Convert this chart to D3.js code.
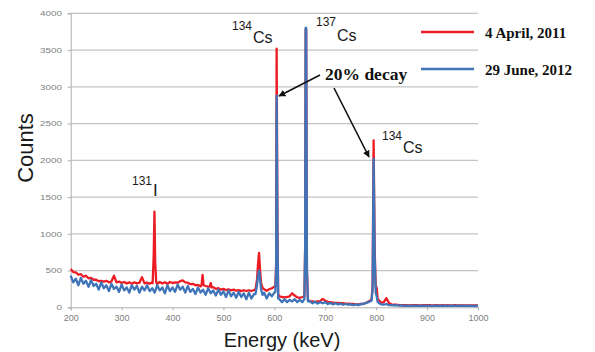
<!DOCTYPE html>
<html><head><meta charset="utf-8">
<script src="https://cdn.jsdelivr.net/npm/d3@7"></script>
<style>
html,body{margin:0;padding:0;background:#fff;}
svg{display:block;}
</style></head>
<body>
<svg id="chart" width="595" height="352"></svg>
<script>
// ---- data ----
const energyStart = 200, energyStep = 5;
const xTicks = [200, 300, 400, 500, 600, 700, 800, 900, 1000];
const yTicks = [0, 500, 1000, 1500, 2000, 2500, 3000, 3500, 4000];
const seriesNames = ["4 April, 2011", "29 June, 2012"];

// background continuum, counts every 5 keV from 200 to 1000
const redBase = [
 520,480,475,445,450,415,430,395,400,375,
 375,355,360,350,360,340,350,430,340,350,
 330,345,325,340,320,340,325,335,410,325,
 335,320,340,325,320,345,325,340,320,345,
 330,340,335,355,365,340,335,315,320,300,
 305,285,300,290,280,300,275,250,260,240,
 250,235,245,230,240,225,235,220,232,222,
 232,222,235,240,245,250,245,225,245,260,
 280,300,150,140,135,140,150,190,160,135,
 130,140,150,120,85,80,75,80,85,115,
 90,75,70,65,60,60,55,55,50,50,
 45,45,40,40,45,50,60,80,100,200,
 260,100,60,70,125,60,40,35,35,30,
 30,28,30,27,30,28,30,27,28,30,
 28,30,27,28,30,27,28,26,28,27,
 26,28,25,27,26,25,27,25,26,25,
 25];
const blueBase = [
 430,340,390,300,400,320,360,280,370,290,
 320,240,340,260,300,220,320,250,280,210,
 310,230,270,200,300,240,290,200,280,230,
 300,220,260,200,300,230,270,190,300,220,
 270,210,310,240,280,200,290,210,250,180,
 270,200,240,170,260,190,230,160,240,170,
 220,140,230,150,200,130,210,140,190,110,
 200,120,180,150,200,180,200,120,190,150,
 200,250,110,70,110,70,100,80,110,70,
 100,70,110,90,80,55,75,50,70,55,
 70,45,60,40,55,40,50,35,45,35,
 40,30,40,30,45,45,60,70,90,150,
 140,60,40,35,45,30,30,25,30,22,
 25,20,24,19,23,20,24,19,22,20,
 23,19,22,20,23,19,22,20,21,19,
 22,19,21,20,22,18,21,19,20,18,
 20];

// peaks: [energy keV, counts]
const redPeaks = [
 [[361,330],[363,700],[364.5,1300],[366,600],[368,340]],
 [[457,300],[459,440],[461,300]],
 [[473,280],[475,330],[477,270]],
 [[563,240],[566,380],[568,600],[570,740],[572,500],[574,330],[577,260]],
 [[602,290],[603.5,600],[604.5,3520],[606,1200],[607.5,180]],
 [[659,150],[660.5,800],[661.5,3780],[662.5,3780],[664,500],[666,100]],
 [[791,110],[793,300],[795,2270],[797,800],[799,300],[801,260],[803,110]]
];
const bluePeaks = [
 [[563,180],[566,300],[568,430],[570,500],[572,380],[574,240],[577,170]],
 [[602,210],[603.5,500],[604.5,2880],[606,1000],[607.5,120]],
 [[659,110],[660.5,800],[661.5,3800],[662.5,3800],[664,500],[666,80]],
 [[791,90],[793,250],[795,2020],[797,700],[799,200],[801,150],[803,70]]
];

// ---- build ----
function buildSeries(base, peaks){
  let pts = base.map((v,i)=>[energyStart + i*energyStep, v]);
  peaks.forEach(pk=>{
    const lo = pk[0][0], hi = pk[pk.length-1][0];
    pts = pts.filter(p => p[0] < lo || p[0] > hi);
    pts = pts.concat(pk);
  });
  return pts.sort((a,b)=>a[0]-b[0]);
}
const redData = buildSeries(redBase, redPeaks);
const blueData = buildSeries(blueBase, bluePeaks);

const svg = d3.select("#chart");
const L = 70.7, R = 478, T = 13.3, B = 307.3;
const x = d3.scaleLinear().domain([200,1000]).range([L,R]);
const y = d3.scaleLinear().domain([0,4000]).range([B,T]);

// gridlines
svg.append("g").selectAll("line").data(yTicks.filter(d=>d>0)).join("line")
  .attr("x1",L).attr("x2",R).attr("y1",d=>y(d)).attr("y2",d=>y(d))
  .attr("stroke","#c4c4c4").attr("stroke-width",1.2);

// axes
const yAxis = svg.append("g").attr("transform",`translate(${L},0)`)
  .call(d3.axisLeft(y).tickValues(yTicks).tickSize(3).tickFormat(d3.format("d")));
yAxis.select(".domain").attr("stroke","#b0b0b0");
yAxis.selectAll(".tick line").attr("stroke","#b0b0b0");
yAxis.selectAll("text").attr("x",-6.5).attr("transform","scale(1.32,1)")
  .attr("fill","#808080").style("font-family","Liberation Sans, Arial, sans-serif").style("font-size","7.5px");

const xAxis = svg.append("g").attr("transform",`translate(0,${B})`)
  .call(d3.axisBottom(x).tickValues(xTicks).tickSize(3).tickFormat(d3.format("d")));
xAxis.select(".domain").attr("stroke","#b0b0b0");
xAxis.selectAll(".tick line").attr("stroke","#b0b0b0");
xAxis.selectAll("text").attr("y",7).attr("fill","#808080")
  .style("font-family","Liberation Sans, Arial, sans-serif").style("font-size","9px");

// lines
const line = d3.line().x(d=>x(d[0])).y(d=>y(d[1]));
svg.append("path").datum(redData).attr("d",line)
  .attr("fill","none").attr("stroke","#ec1c24").attr("stroke-width",2.3).attr("stroke-linejoin","round");
svg.append("path").datum(blueData).attr("d",line)
  .attr("fill","none").attr("stroke","#3f74b9").attr("stroke-width",2.3).attr("stroke-linejoin","round");

// axis titles
svg.append("text").attr("transform","translate(33,148) rotate(-90)")
  .attr("text-anchor","middle").attr("fill","#1a1a1a")
  .style("font-family","Liberation Sans, Arial, sans-serif").style("font-size","22px").text("Counts");
svg.append("text").attr("x",282).attr("y",347).attr("text-anchor","middle").attr("fill","#1a1a1a")
  .style("font-family","Liberation Sans, Arial, sans-serif").style("font-size","20px").text("Energy (keV)");

// isotope labels
function iso(sup, sx, sy, main, mx, my, mainSize){
  const g = svg.append("g").attr("fill","#1a1a1a").style("font-family","Liberation Sans, Arial, sans-serif");
  g.append("text").attr("x",sx).attr("y",sy).style("font-size","12px").text(sup);
  g.append("text").attr("x",mx).attr("y",my).style("font-size",mainSize+"px").text(main);
}
iso("134",232,30,"Cs",253,43,16);
iso("137",316,26,"Cs",337,41,16);
iso("134",382,140,"Cs",403,153,16);
iso("131",132,185,"I",153,196,17);

// 20% decay annotation
svg.append("text").attr("x",325).attr("y",80).attr("fill","#111")
  .style("font-family","Liberation Serif, Times New Roman, serif").style("font-weight","bold").style("font-size","17.5px")
  .text("20% decay");
const defs = svg.append("defs");
defs.append("marker").attr("id","ah").attr("viewBox","0 0 10 10").attr("refX",9).attr("refY",5)
  .attr("markerWidth",7).attr("markerHeight",7).attr("markerUnits","userSpaceOnUse").attr("orient","auto")
  .append("path").attr("d","M0,0 L10,5 L0,10 z").attr("fill","#111");
const arrows = [[320,75,279,96],[334,88,369,157]];
svg.append("g").selectAll("line").data(arrows).join("line")
  .attr("x1",d=>d[0]).attr("y1",d=>d[1]).attr("x2",d=>d[2]).attr("y2",d=>d[3])
  .attr("stroke","#111").attr("stroke-width",1.6).attr("marker-end","url(#ah)");

// legend
const legColors = ["#ec1c24","#3f74b9"];
const legY = [32,69];
const lg = svg.append("g");
seriesNames.forEach((n,i)=>{
  lg.append("line").attr("x1",421).attr("x2",474).attr("y1",legY[i]).attr("y2",legY[i])
    .attr("stroke",legColors[i]).attr("stroke-width",2.6);
  lg.append("text").attr("x",485).attr("y",legY[i]+5.5).attr("fill","#111")
    .style("font-family","Liberation Serif, Times New Roman, serif").style("font-weight","bold").style("font-size","15px")
    .text(n);
});
</script>
</body></html>
